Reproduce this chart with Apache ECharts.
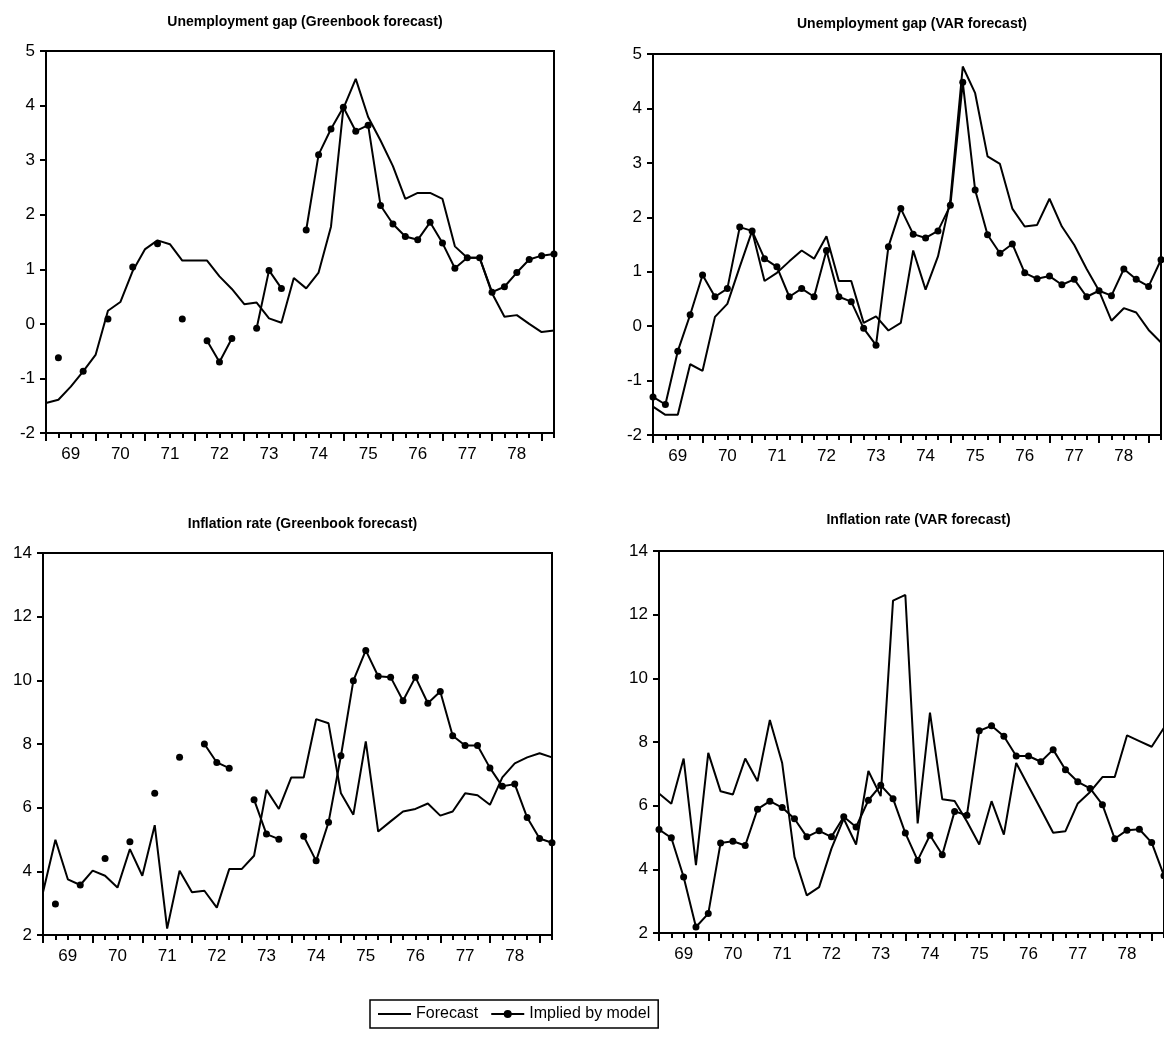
<!DOCTYPE html>
<html>
<head>
<meta charset="utf-8">
<script src="https://cdn.jsdelivr.net/npm/echarts@6/dist/echarts.min.js"></script>
<style>
  html, body { margin: 0; padding: 0; background: #fff; }
  #chart { width: 1164px; height: 1046px; }
</style>
</head>
<body>
<div id="chart"></div>
<script>
// quarters 1968Q3 .. 1978Q4
const quarters = [
  '1968Q3', '1968Q4',
  '1969Q1', '1969Q2', '1969Q3', '1969Q4', '1970Q1', '1970Q2', '1970Q3', '1970Q4',
  '1971Q1', '1971Q2', '1971Q3', '1971Q4', '1972Q1', '1972Q2', '1972Q3', '1972Q4',
  '1973Q1', '1973Q2', '1973Q3', '1973Q4', '1974Q1', '1974Q2', '1974Q3', '1974Q4',
  '1975Q1', '1975Q2', '1975Q3', '1975Q4', '1976Q1', '1976Q2', '1976Q3', '1976Q4',
  '1977Q1', '1977Q2', '1977Q3', '1977Q4', '1978Q1', '1978Q2', '1978Q3', '1978Q4'
];

// unemployment gap, Greenbook
const ugGbForecast = [-1.45, -1.39, -1.15, -0.87, -0.57, 0.24, 0.40, 0.97, 1.37, 1.53,
  1.46, 1.16, 1.16, 1.16, 0.87, 0.64, 0.36, 0.39, 0.10, 0.02,
  0.84, 0.65, 0.94, 1.78, 3.95, 4.49, 3.79, 3.36, 2.89, 2.29,
  2.40, 2.40, 2.29, 1.42, 1.21, 1.21, 0.56, 0.13, 0.16, 0.00, -0.15, -0.12];
const ugGbImplied = [null, -0.62, null, -0.87, null, 0.09, null, 1.04, null, 1.47,
  null, 0.09, null, -0.31, -0.70, -0.27, null, -0.08, 0.98, 0.65,
  null, 1.72, 3.10, 3.57, 3.97, 3.53, 3.64, 2.17, 1.83, 1.60,
  1.54, 1.86, 1.48, 1.02, 1.21, 1.21, 0.58, 0.68, 0.94, 1.18, 1.25, 1.28];

// unemployment gap, VAR
const ugVarForecast = [-1.48, -1.63, -1.63, -0.70, -0.82, 0.17, 0.41, 1.09, 1.75, 0.83,
  0.98, 1.19, 1.39, 1.24, 1.65, 0.83, 0.83, 0.06, 0.18, -0.08,
  0.06, 1.39, 0.67, 1.28, 2.32, 4.77, 4.28, 3.12, 2.98, 2.16,
  1.83, 1.86, 2.34, 1.83, 1.49, 1.05, 0.65, 0.10, 0.33, 0.25, -0.07, -0.30];
const ugVarImplied = [-1.30, -1.44, -0.46, 0.21, 0.94, 0.54, 0.69, 1.82, 1.75, 1.24,
  1.09, 0.54, 0.69, 0.54, 1.39, 0.54, 0.45, -0.04, -0.35, 1.46,
  2.16, 1.69, 1.62, 1.75, 2.22, 4.48, 2.50, 1.68, 1.34, 1.51,
  0.98, 0.87, 0.92, 0.76, 0.86, 0.54, 0.65, 0.56, 1.05, 0.86, 0.73, 1.22];

// inflation, Greenbook
const infGbForecast = [3.34, 4.99, 3.75, 3.57, 4.02, 3.86, 3.49, 4.70, 3.86, 5.45,
  2.20, 4.02, 3.34, 3.39, 2.86, 4.07, 4.07, 4.49, 6.56, 5.96,
  6.95, 6.95, 8.78, 8.65, 6.45, 5.78, 8.08, 5.25, 5.57, 5.88,
  5.96, 6.13, 5.75, 5.88, 6.45, 6.39, 6.09, 6.95, 7.39, 7.58, 7.71, 7.58];
const infGbImplied = [null, 2.97, null, 3.57, null, 4.40, null, 4.93, null, 6.45,
  null, 7.58, null, 8.00, 7.42, 7.24, null, 6.25, 5.17, 5.01,
  null, 5.10, 4.33, 5.54, 7.63, 9.99, 10.94, 10.13, 10.10, 9.36,
  10.10, 9.28, 9.65, 8.26, 7.95, 7.95, 7.25, 6.67, 6.74, 5.69, 5.03, 4.90];

// inflation, VAR
const infVarForecast = [6.38, 6.06, 7.48, 4.13, 7.66, 6.45, 6.35, 7.48, 6.77, 8.69,
  7.34, 4.39, 3.18, 3.44, 4.65, 5.59, 4.78, 7.09, 6.30, 12.44,
  12.62, 5.44, 8.92, 6.20, 6.15, 5.50, 4.78, 6.14, 5.09, 7.34,
  6.61, 5.89, 5.15, 5.20, 6.07, 6.43, 6.90, 6.90, 8.21, 8.03, 7.85, 8.45];
const infVarImplied = [5.25, 4.99, 3.76, 2.19, 2.61, 4.83, 4.88, 4.75, 5.89, 6.14,
  5.94, 5.59, 5.02, 5.21, 5.02, 5.65, 5.33, 6.17, 6.64, 6.22,
  5.14, 4.28, 5.07, 4.46, 5.82, 5.70, 8.35, 8.51, 8.18, 7.56,
  7.56, 7.38, 7.76, 7.13, 6.75, 6.54, 6.03, 4.96, 5.23, 5.26, 4.84, 3.80];

const FONT = 'Liberation Sans, Arial, sans-serif';

const panels = [
  {title: 'Unemployment gap (Greenbook forecast)', forecast: ugGbForecast, implied: ugGbImplied,
    yMin: -2, yMax: 5, yStep: 1, grid: {left: 46, top: 51, width: 508, height: 382}, titleTop: 10},
  {title: 'Unemployment gap (VAR forecast)', forecast: ugVarForecast, implied: ugVarImplied,
    yMin: -2, yMax: 5, yStep: 1, grid: {left: 653, top: 54, width: 508, height: 381}, titleTop: 12},
  {title: 'Inflation rate (Greenbook forecast)', forecast: infGbForecast, implied: infGbImplied,
    yMin: 2, yMax: 14, yStep: 2, grid: {left: 43, top: 553, width: 509, height: 382}, titleTop: 512},
  {title: 'Inflation rate (VAR forecast)', forecast: infVarForecast, implied: infVarImplied,
    yMin: 2, yMax: 14, yStep: 2, grid: {left: 659, top: 551, width: 509, height: 382}, titleTop: 508}
];

const chart = echarts.init(document.getElementById('chart'));

const grid = [], xAxis = [], yAxis = [], series = [], title = [];

panels.forEach((p, k) => {
  grid.push({...p.grid, show: true, borderColor: '#000', borderWidth: 2, backgroundColor: 'transparent'});
  title.push({
    text: p.title,
    left: p.grid.left + p.grid.width / 2,
    top: p.titleTop,
    textAlign: 'center',
    textStyle: {fontFamily: FONT, fontSize: 14, fontWeight: 'bold', color: '#000'}
  });
  // main x axis: quarterly ticks, year labels at Q1
  xAxis.push({
    type: 'category', gridIndex: k, position: 'bottom', data: quarters, boundaryGap: false,
    axisLine: {onZero: false, lineStyle: {color: '#000', width: 2}},
    axisTick: {interval: 0, length: 5, lineStyle: {color: '#000', width: 2}},
    axisLabel: {
      interval: (i, v) => v.endsWith('Q1'),
      formatter: v => v.slice(2, 4),
      fontFamily: FONT, fontSize: 17, color: '#000', margin: 13
    },
    splitLine: {show: false}
  });
  // longer ticks every fourth quarter
  xAxis.push({
    type: 'category', gridIndex: k, position: 'bottom', data: quarters, boundaryGap: false,
    axisLine: {show: false, onZero: false},
    axisTick: {interval: (i) => i % 4 === 0, length: 8, lineStyle: {color: '#000', width: 2}},
    axisLabel: {show: false},
    splitLine: {show: false}
  });
  yAxis.push({
    type: 'value', gridIndex: k, min: p.yMin, max: p.yMax, interval: p.yStep,
    axisLine: {show: true, onZero: false, lineStyle: {color: '#000', width: 2}},
    axisTick: {show: true, length: 6, lineStyle: {color: '#000', width: 2}},
    axisLabel: {fontFamily: FONT, fontSize: 17, color: '#000', margin: 11},
    splitLine: {show: false}
  });
  series.push({
    name: 'Forecast', type: 'line', xAxisIndex: k * 2, yAxisIndex: k,
    data: p.forecast, symbol: 'none',
    lineStyle: {color: '#000', width: 2}, itemStyle: {color: '#000'}
  });
  series.push({
    name: 'Implied by model', type: 'line', xAxisIndex: k * 2, yAxisIndex: k,
    data: p.implied, symbol: 'circle', symbolSize: 7, showSymbol: true, showAllSymbol: true,
    connectNulls: false,
    lineStyle: {color: '#000', width: 2}, itemStyle: {color: '#000'}
  });
});

chart.setOption({
  animation: false,
  backgroundColor: '#fff',
  title,
  grid,
  xAxis,
  yAxis,
  series,
  legend: {
    data: [
      {name: 'Forecast', icon: 'path://M0,0M0,4L33,4L33,6L0,6ZM33,10'},
      'Implied by model'
    ],
    left: 370,
    top: 1000,
    padding: [6, 8],
    itemWidth: 33,
    itemHeight: 10,
    itemGap: 12,
    borderColor: '#000',
    borderWidth: 1.5,
    textStyle: {fontFamily: FONT, fontSize: 16, color: '#000'}
  }
});
</script>
</body>
</html>
